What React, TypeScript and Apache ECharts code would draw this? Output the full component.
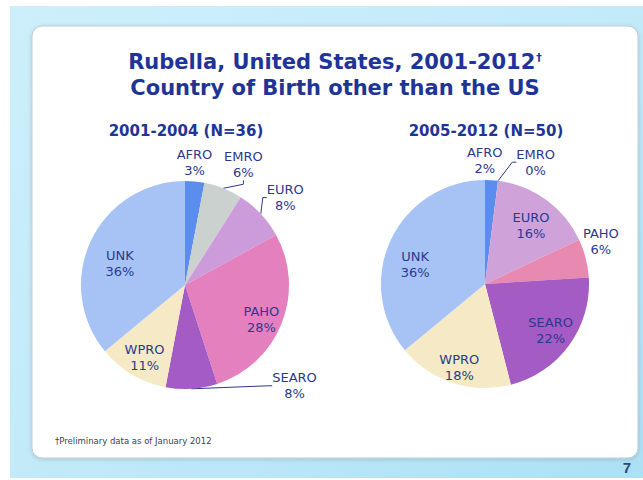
import React, { useEffect, useRef } from "react";
import * as echarts from "echarts";

// ---- data ----
const regions = ["AFRO", "EMRO", "EURO", "PAHO", "SEARO", "WPRO", "UNK"];
const pct2001to2004 = [3, 6, 8, 28, 8, 11, 36];
const pct2005to2012 = [2, 0, 16, 6, 22, 18, 36];
const pieTitles = ["2001-2004 (N=36)", "2005-2012 (N=50)"];
const titleLine1 = "Rubella, United States, 2001-2012";
const titleLine2 = "Country of Birth other than the US";
const footnote = "†Preliminary data as of January 2012";
const pageNumber = "7";

// ---- styles ----
const FONT = "DejaVu Sans";
const TEXT_BLUE = "#1F3497";
const LABEL_BLUE = "#2B3990";
const colorsLeft = ["#5B8DEF", "#CBD1CF", "#CC9BD9", "#E580BE", "#A45BC3", "#F5EAC5", "#A7C3F6"];
const colorsRight = ["#5B8DEF", "#CBD1CF", "#CFA3D9", "#E889B2", "#A45BC3", "#F5EAC5", "#A7C3F6"];

const R = 104;
// label placement: [radial factor, dx, dy]
const placeLeft: number[][] = [
  [1.17, -2, -1],
  [1.29, 9, 4],
  [1.27, 4, 3],
  [0.8, -1, 4],
  [1.0, 103, -3],
  [0.82, 3, -1],
  [0.66, -3, 8],
];
const lineLeft = [false, true, true, false, true, false, false];
const outsideLeft = [true, true, true, false, true, false, false];
const placeRight: number[][] = [
  [1.18, -8, -1],
  [1.2, 35, 2],
  [0.72, 2, 2],
  [1.18, -3, -12],
  [0.78, 0, -1],
  [0.83, 1, 1],
  [0.7, -4, 11],
];
const lineRight = [false, true, false, false, false, false, false];
const outsideRight = [true, true, false, true, false, false, false];

function midAngles(values: number[]) {
  const total = values.reduce((a, b) => a + b, 0);
  let acc = 0;
  return values.map((v) => {
    const m = ((acc + v / 2) / total) * 360;
    acc += v;
    return m;
  });
}

function makePie(
  values: number[],
  colors: string[],
  cx: number,
  cy: number,
  place: number[][],
  lines: boolean[],
  outside: boolean[]
) {
  const mids = midAngles(values);
  return {
    type: "pie",
    center: [cx, cy],
    radius: R,
    startAngle: 90,
    clockwise: true,
    avoidLabelOverlap: false,
    minShowLabelAngle: 0,
    itemStyle: { borderWidth: 0 },
    emphasis: { disabled: true },
    label: {
      formatter: (p: any) => `${p.name}\n${p.value}%`,
      fontFamily: FONT,
      fontSize: 13,
      lineHeight: 16,
      color: LABEL_BLUE,
      align: "center",
    },
    labelLine: {
      show: false,
      length: 6,
      length2: 4,
      lineStyle: { color: LABEL_BLUE, width: 1 },
    },
    labelLayout: (params: any) => {
      const i = params.dataIndex;
      const a = (mids[i] * Math.PI) / 180;
      const [rf, dx, dy] = place[i];
      return {
        x: cx + rf * R * Math.sin(a) + dx,
        y: cy - rf * R * Math.cos(a) + dy,
        align: "center",
        verticalAlign: "middle",
      };
    },
    data: regions.map((name, i) => ({
      name,
      value: values[i],
      itemStyle: { color: colors[i] },
      label: { position: outside[i] ? "outside" : "inside" },
      labelLine: { show: lines[i] },
    })),
  };
}

export default function App() {
  const ref = useRef<HTMLDivElement>(null);
  useEffect(() => {
    if (!ref.current) return;
    const chart = echarts.init(ref.current, undefined, { renderer: "svg" });
    const option: any = {
      animation: false,
      graphic: [
        {
          type: "rect",
          z: -10,
          shape: { x: 10, y: 6, width: 633, height: 472 },
          style: {
            fill: new echarts.graphic.LinearGradient(0, 0, 1, 1, [
              { offset: 0, color: "#CDEFFB" },
              { offset: 0.5, color: "#C2EAF9" },
              { offset: 1, color: "#ADE0F5" },
            ]),
          },
        },
        {
          type: "rect",
          z: -9,
          shape: { x: 32, y: 26, width: 606, height: 432, r: 10 },
          style: {
            fill: "#FFFFFF",
            stroke: "#BFCBD3",
            lineWidth: 1,
            shadowBlur: 4,
            shadowColor: "rgba(0,0,0,0.15)",
            shadowOffsetY: 1,
          },
        },
        {
          type: "text",
          x: 335,
          y: 62,
          style: {
            text: `{t|${titleLine1}}{s|†}`,
            align: "center",
            verticalAlign: "middle",
            fill: TEXT_BLUE,
            rich: {
              t: { fontFamily: FONT, fontWeight: "bold", fontSize: 21, fill: TEXT_BLUE },
              s: { fontFamily: FONT, fontWeight: "bold", fontSize: 11, fill: TEXT_BLUE, verticalAlign: "top", padding: [0, 0, 10, 1] },
            },
          },
        },
        {
          type: "text",
          x: 335,
          y: 88,
          style: {
            text: titleLine2,
            align: "center",
            verticalAlign: "middle",
            font: `bold 21px "${FONT}"`,
            fill: TEXT_BLUE,
          },
        },
        {
          type: "text",
          x: 186,
          y: 131,
          style: {
            text: pieTitles[0],
            align: "center",
            verticalAlign: "middle",
            font: `bold 15px "${FONT}"`,
            fill: TEXT_BLUE,
          },
        },
        {
          type: "text",
          x: 486,
          y: 131,
          style: {
            text: pieTitles[1],
            align: "center",
            verticalAlign: "middle",
            font: `bold 15px "${FONT}"`,
            fill: TEXT_BLUE,
          },
        },
        {
          type: "text",
          x: 55,
          y: 441,
          style: {
            text: footnote,
            align: "left",
            verticalAlign: "middle",
            font: `8.5px "${FONT}"`,
            fill: "#3A3F55",
          },
        },
        {
          type: "text",
          x: 631,
          y: 467,
          style: {
            text: pageNumber,
            align: "right",
            verticalAlign: "middle",
            font: `bold 15px "Liberation Sans"`,
            fill: "#2C4A7C",
          },
        },
      ],
      series: [
        makePie(pct2001to2004, colorsLeft, 185, 285, placeLeft, lineLeft, outsideLeft),
        makePie(pct2005to2012, colorsRight, 485, 284, placeRight, lineRight, outsideRight),
      ],
    };
    chart.setOption(option);
    return () => chart.dispose();
  }, []);
  return (
    <div
      ref={ref}
      style={{ position: "fixed", left: 0, top: 0, width: 643, height: 480, background: "#FFFFFF" }}
    />
  );
}
